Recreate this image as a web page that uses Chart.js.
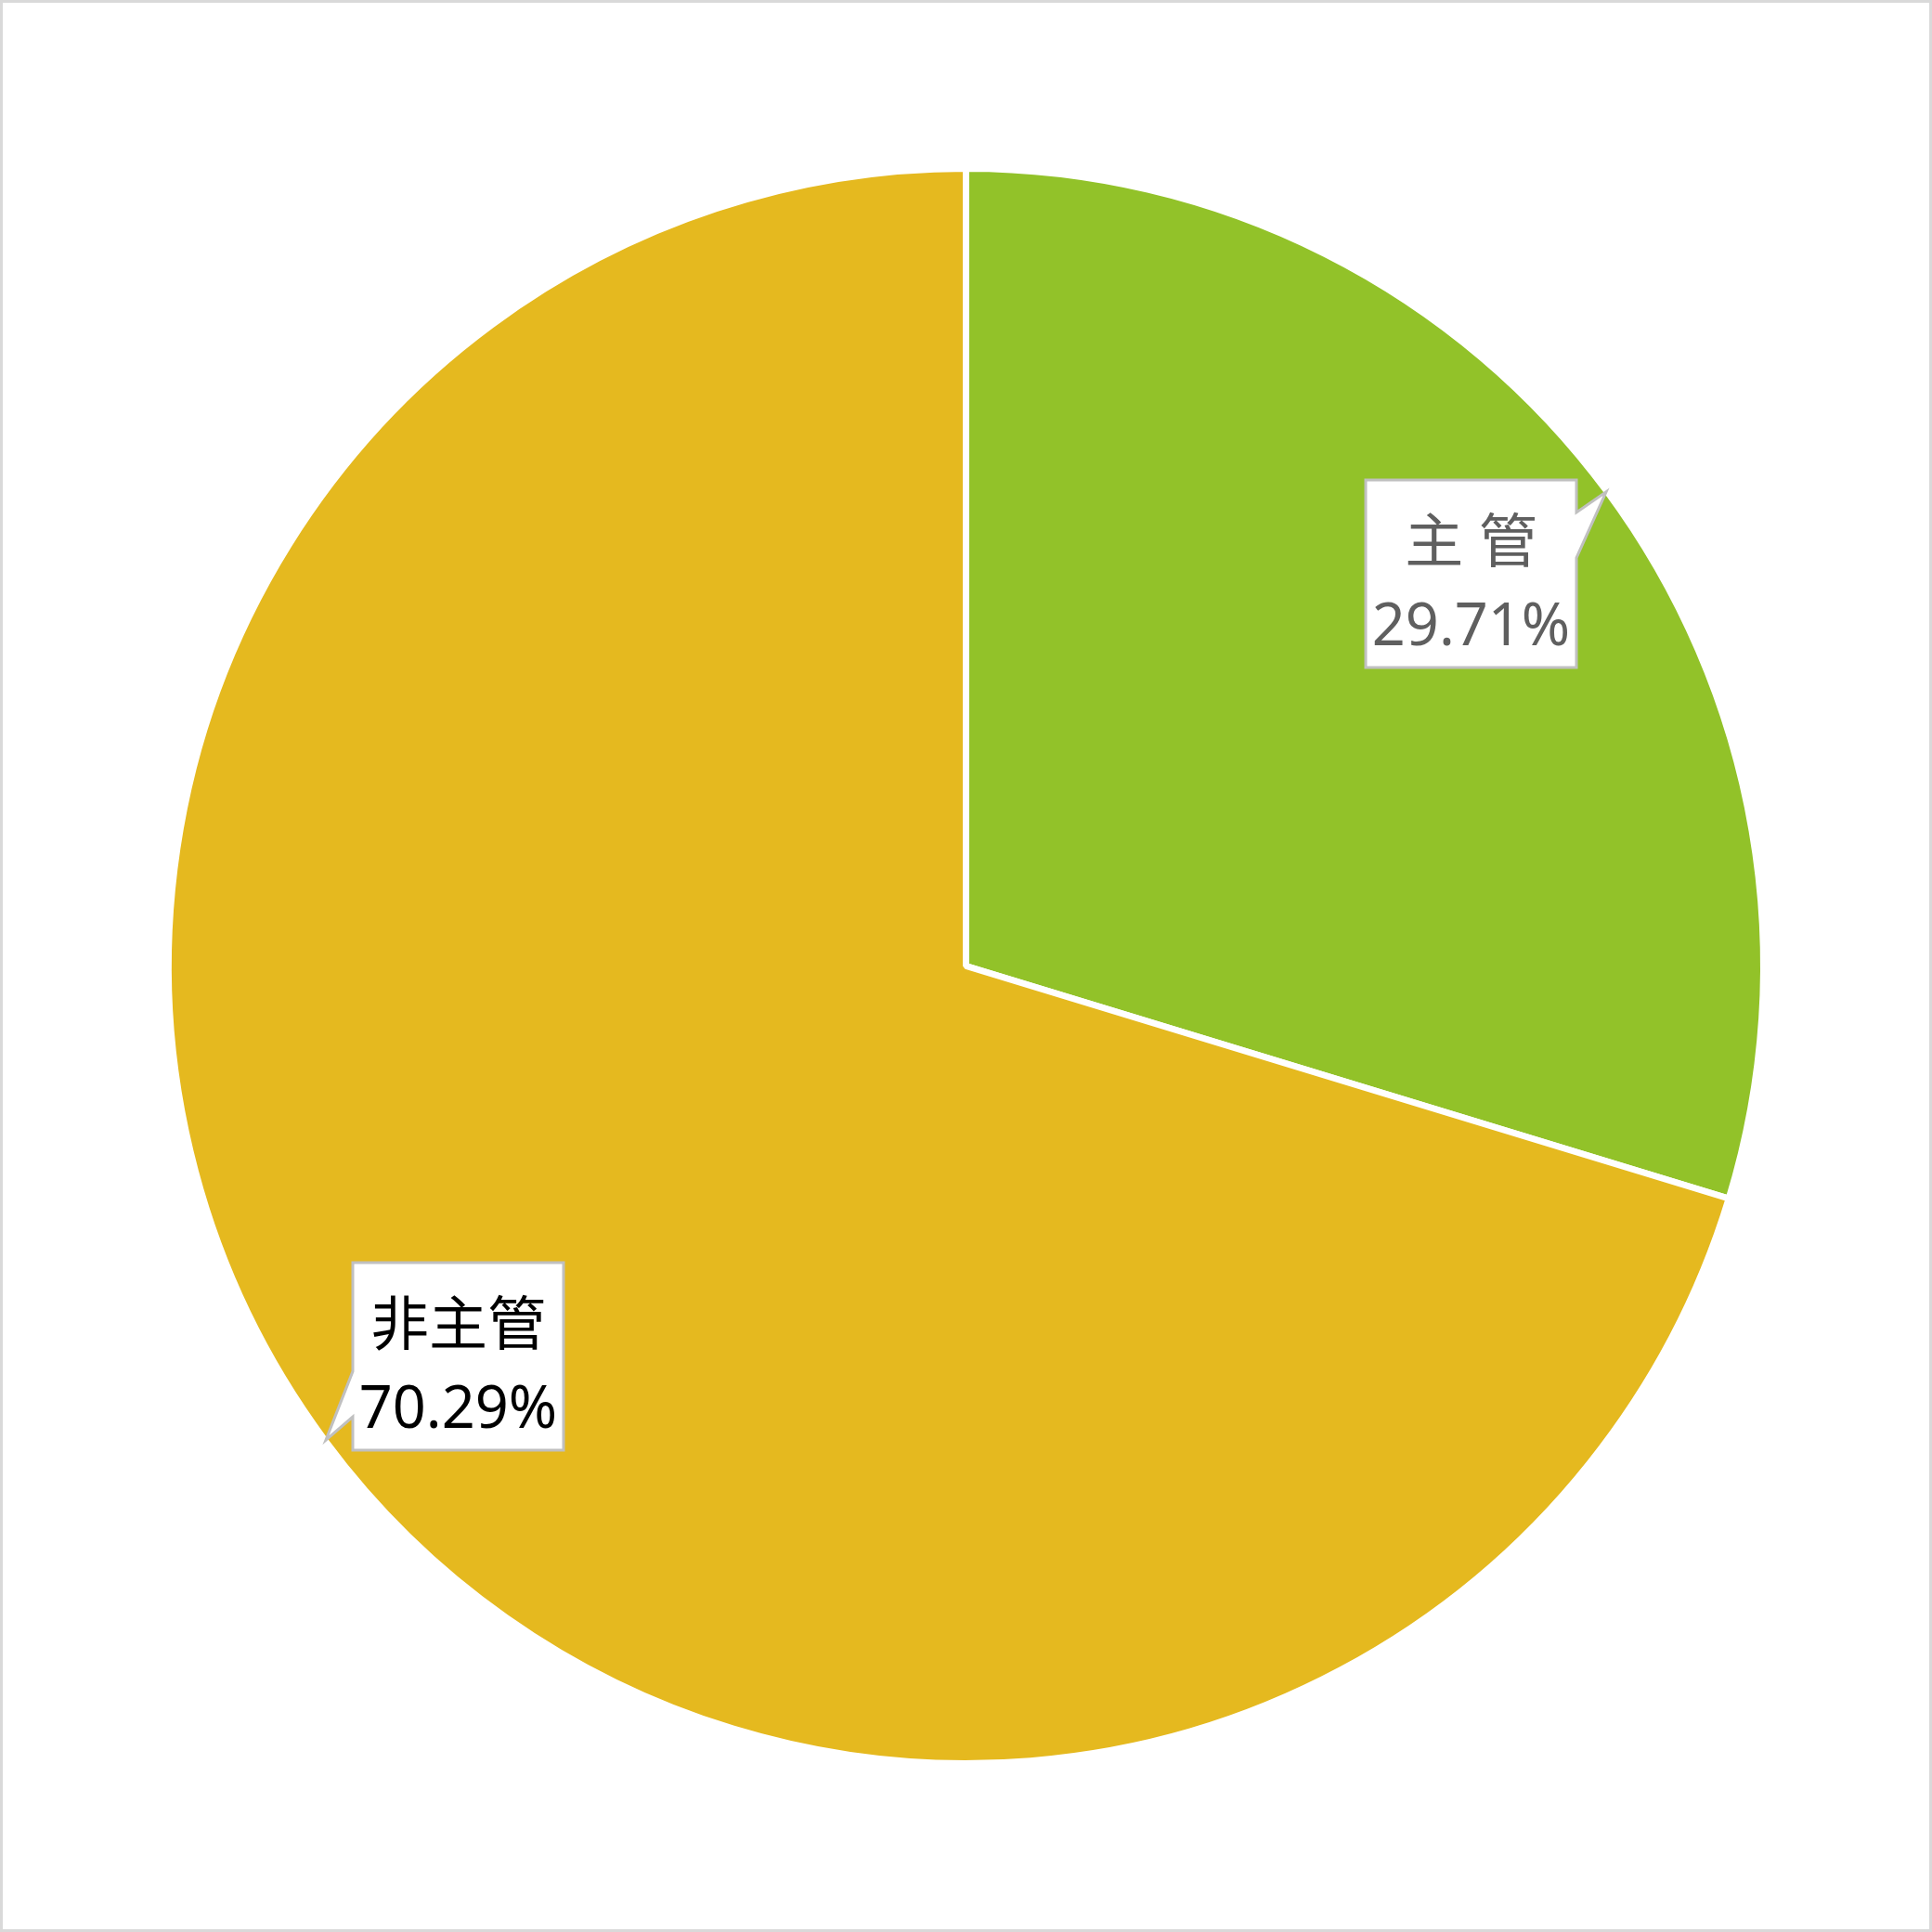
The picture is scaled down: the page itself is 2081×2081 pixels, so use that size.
<!DOCTYPE html>
<html>
<head>
<meta charset="utf-8">
<script src="https://cdn.jsdelivr.net/npm/chart.js@4/dist/chart.umd.min.js"></script>
<style>
    html, body { margin: 0; padding: 0; background: #fff; }
    #wrap {
        width: 2081px; height: 2081px; box-sizing: border-box;
        border: 3px solid #d9d9d9; position: relative;
    }
    #grafico { position: absolute; left: -3px; top: -3px; }
</style>
</head>
<body>
<div id="wrap"><canvas id="grafico" width="2081" height="2081"></canvas></div>
<script>
// Datos del gráfico
const categorias = ["主管", "非主管"];
const etiquetas = ["主 管", "非主管"];
const valores = [29.71, 70.29];
const colores = ["#92c229", "#e5b91f"];
const coloresTexto = ["#5f5f5f", "#000000"];

// Plugin: cuadros de etiqueta con flecha
const etiquetasPlugin = {
    id: "etiquetasCallout",
    afterDraw(chart) {
        const ctx = chart.ctx;
        const meta = chart.getDatasetMeta(0);
        const total = valores.reduce((a, b) => a + b, 0);
        meta.data.forEach((arc, i) => {
            const p = arc.getProps(["x", "y", "startAngle", "endAngle", "outerRadius"], true);
            const mid = (p.startAngle + p.endAngle) / 2;
            const tx = p.x + Math.cos(mid) * (p.outerRadius - 1);
            const ty = p.y + Math.sin(mid) * (p.outerRadius - 1);
            const w = 227, h = 202;
            let bx, by, pts;
            if (Math.cos(mid) > 0) {
                // flecha en el lado derecho
                bx = tx - 32 - w;
                by = ty - 13;
                pts = [[bx, by], [bx + w, by], [bx + w, by + 35], [tx, ty], [bx + w, by + 84],
                       [bx + w, by + h], [bx, by + h]];
            } else {
                // flecha en el lado izquierdo
                bx = tx + 29;
                by = ty + 11 - h;
                pts = [[bx, by], [bx + w, by], [bx + w, by + h], [bx, by + h],
                       [bx, by + 166], [tx, ty], [bx, by + 117]];
            }
            ctx.save();
            ctx.beginPath();
            pts.forEach((pt, k) => (k ? ctx.lineTo(pt[0], pt[1]) : ctx.moveTo(pt[0], pt[1])));
            ctx.closePath();
            ctx.fillStyle = "#ffffff";
            ctx.fill();
            ctx.lineWidth = 3;
            ctx.strokeStyle = "#c0c0c0";
            ctx.lineJoin = "miter";
            ctx.stroke();

            ctx.fillStyle = coloresTexto[i];
            ctx.textAlign = "center";
            ctx.textBaseline = "middle";
            ctx.font = "63px 'Noto Sans', 'Noto Sans CJK TC', sans-serif";
            const cx = bx + w / 2;
            ctx.fillText(etiquetas[i], cx, by + 70);
            const pct = (valores[i] / total * 100).toFixed(2) + "%";
            ctx.fillText(pct, cx, by + 160);
            ctx.restore();
        });
    }
};

const ctx = document.getElementById("grafico").getContext("2d");
new Chart(ctx, {
    type: "pie",
    data: {
        labels: categorias,
        datasets: [
            {
                data: valores,
                backgroundColor: colores,
                borderColor: "#ffffff",
                borderWidth: 7,
            },
        ],
    },
    options: {
        responsive: false,
        animation: false,
        layout: { padding: 178 },
        plugins: {
            legend: { display: false },
            tooltip: { enabled: false },
        },
    },
    plugins: [etiquetasPlugin],
});
</script>
</body>
</html>
